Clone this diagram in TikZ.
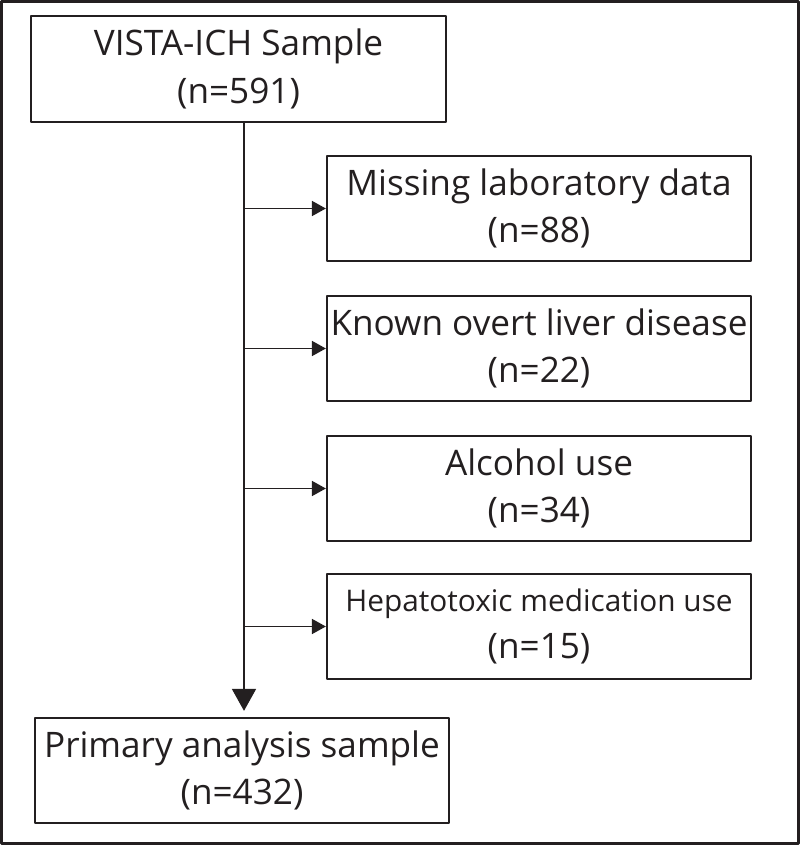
\documentclass[tikz,border=0pt]{standalone}
\usepackage{fontspec}
\setmainfont{Open Sans}
\usetikzlibrary{arrows.meta}
\definecolor{ink}{HTML}{231F20}

\begin{document}
\begin{tikzpicture}[join=round,
    box/.style={draw=ink,line width=1.6pt,inner sep=0pt,align=center,text=ink,
      font=\fontsize{25}{34}\selectfont,minimum height=2.625cm},
    link/.style={draw=ink,line width=1.3pt,-{Triangle[length=0.35cm,width=0.375cm]}}]
    \def\s{6.1}
    \useasboundingbox (0,0) rectangle (20,21.125);
    \draw[ink,line width=2.2pt] (0.04,0.04) rectangle (19.96,21.085);
    \node[box,minimum width=10.375cm,minimum height=2.65cm] (vista) at (5.9625,19.4) {VISTA-ICH Sample\\(n=591)};
    \node[box,minimum width=10.6cm] (lab) at (13.475,15.9125) {Missing laboratory data\\(n=88)};
    \node[box,minimum width=10.6cm] (liver) at (13.475,12.4125) {Known overt liver disease\\(n=22)};
    \node[box,minimum width=10.6cm] (alcohol) at (13.475,8.9125) {Alcohol use\\(n=34)};
    \node[box,minimum width=10.6cm] (hepa) at (13.475,5.4625) {{\fontsize{21.2}{34}\selectfont Hepatotoxic medication use}\\(n=15)};
    \node[box,minimum width=10.35cm] (primary) at (6.05,1.8625) {Primary analysis sample\\(n=432)};
    \coordinate (spine) at (\s,0);
    \draw[ink,line width=1.3pt,-{Triangle[length=0.55cm,width=0.6cm]},shorten >=0.15cm] (vista.south -| spine) -- (primary.north -| spine);
    \foreach \n in {lab,liver,alcohol,hepa} \draw[link] (\n.west -| spine) -- (\n.west);
\end{tikzpicture}
\end{document}
